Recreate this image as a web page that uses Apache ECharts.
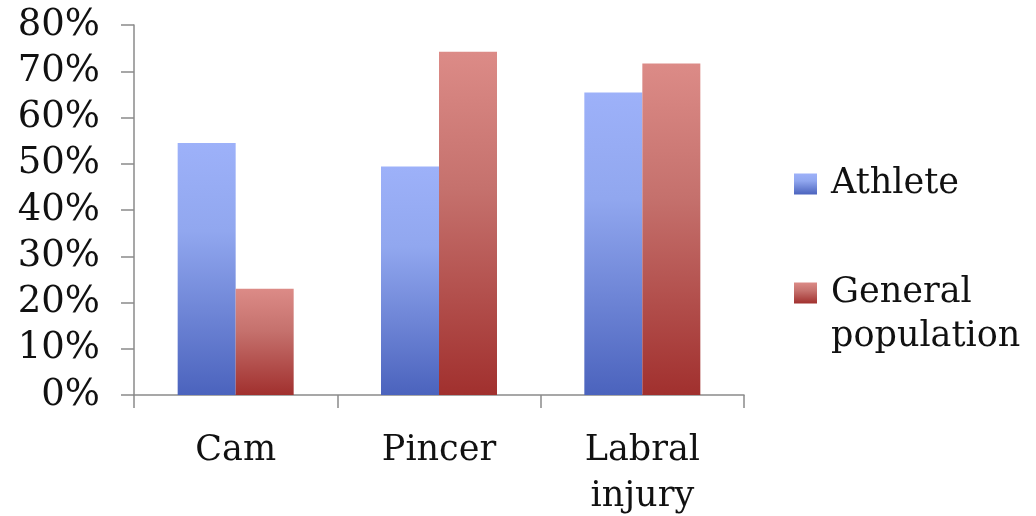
<!DOCTYPE html>
<html>
<head>
<meta charset="utf-8">
<script src="https://cdn.jsdelivr.net/npm/echarts@6/dist/echarts.min.js"></script>
<style>
html,body{margin:0;padding:0;background:#fff;}
#chart{width:1036px;height:516px;}
</style>
</head>
<body>
<div id="chart"></div>
<script>
const categories = ['Cam', 'Pincer', 'Labral\ninjury'];
const athlete = [54.5, 49.4, 65.4];
const generalPopulation = [23.0, 74.2, 71.7];
const seriesNames = ['Athlete', 'General population'];

const FONT = 'DejaVu Serif';
const chart = echarts.init(document.getElementById('chart'), null, {renderer: 'canvas'});

const blueGrad = new echarts.graphic.LinearGradient(0, 0, 0, 1, [
  {offset: 0, color: '#9DB1F9'},
  {offset: 0.35, color: '#91A7EF'},
  {offset: 1, color: '#4B63BD'}
]);
const redGrad = new echarts.graphic.LinearGradient(0, 0, 0, 1, [
  {offset: 0, color: '#DC8B87'},
  {offset: 0.4, color: '#C5716D'},
  {offset: 1, color: '#A1302E'}
]);

chart.setOption({
  animation: false,
  backgroundColor: '#fff',
  grid: {left: 134, right: 292, top: 25, bottom: 121, containLabel: false, outerBoundsMode: 'none'},
  legend: [{
    data: [seriesNames[0]],
    orient: 'vertical',
    left: 789,
    top: 158,
    itemWidth: 23,
    itemHeight: 21,
    icon: 'rect',
    textStyle: {fontFamily: FONT, fontSize: 35, color: '#111', lineHeight: 42, padding: [0, 0, 0, 9]}
  }, {
    data: [seriesNames[1]],
    orient: 'vertical',
    left: 789,
    top: 222,
    itemWidth: 23,
    itemHeight: 21,
    icon: 'rect',
    formatter: function (n) { return ' \n' + n.replace(' ', '\n'); },
    textStyle: {fontFamily: FONT, fontSize: 35, color: '#111', lineHeight: 44, padding: [0, 0, 0, 9]}
  }],
  xAxis: {
    type: 'category',
    data: categories,
    axisLine: {show: true, lineStyle: {color: '#8a8a8a', width: 1.5}},
    axisTick: {show: true, length: 13, inside: false, lineStyle: {color: '#8a8a8a', width: 1.5}},
    axisLabel: {fontFamily: FONT, fontSize: 35, color: '#111', margin: 33, lineHeight: 46, interval: 0}
  },
  yAxis: {
    type: 'value',
    min: 0,
    max: 80,
    interval: 10,
    splitLine: {show: false},
    axisLine: {show: true, lineStyle: {color: '#8a8a8a', width: 1.5}},
    axisTick: {show: true, length: 13, lineStyle: {color: '#8a8a8a', width: 1.5}},
    axisLabel: {fontFamily: FONT, fontSize: 37, color: '#111', margin: 34, formatter: '{value}%'}
  },
  series: [{
    name: seriesNames[0],
    type: 'bar',
    data: athlete,
    barWidth: 58,
    barGap: '0%',
    itemStyle: {color: blueGrad}
  }, {
    name: seriesNames[1],
    type: 'bar',
    data: generalPopulation,
    barWidth: 58,
    barGap: '0%',
    itemStyle: {color: redGrad}
  }]
});
</script>
</body>
</html>
